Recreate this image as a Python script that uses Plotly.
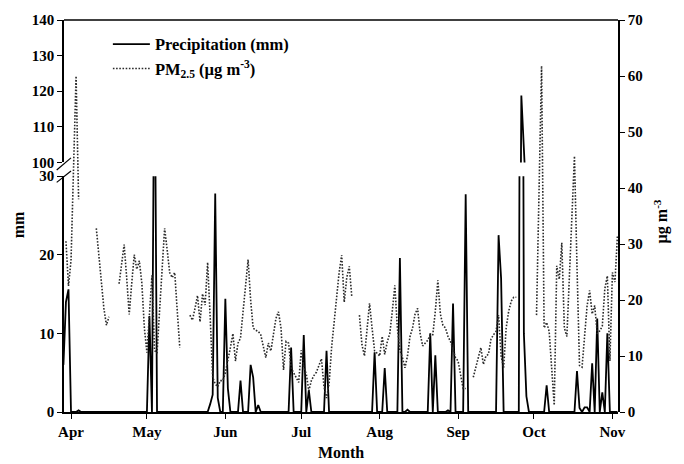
import pandas as pd
import plotly.graph_objects as go

# ---------------- data (daily, 29 Mar - 3 Nov) ----------------
dates = pd.date_range("2014-03-29", "2014-11-03", freq="D")

# Precipitation (mm) by month
precip_mar = [6, 14, 15.6]
precip_apr = [0, 0, 0, 0.2, 0, 0, 0, 0, 0, 0,
              0, 0, 0, 0, 0, 0, 0, 0, 0, 0,
              0, 0, 0, 0, 0, 0, 0, 0, 0, 0]
precip_may = [0, 12.2, 0, 50, 0, 0, 0, 0, 0, 0,
              0, 0, 0, 0, 0, 0, 0, 0, 0, 0,
              0, 0, 0, 0, 0, 1.0, 2.2, 27.8, 1.8, 0, 0]
precip_jun = [14.4, 3, 0, 0, 0, 0, 4.0, 0, 0, 0,
              6.0, 4.4, 0, 0.9, 0, 0, 0, 0, 0, 0,
              0, 0, 0, 0, 0, 0, 8.2, 0, 0, 0]
precip_jul = [0, 9.8, 0, 2.8, 0, 0, 0, 0, 0, 0,
              7.8, 0, 0, 0, 0, 0, 0, 0, 0, 0,
              0, 0, 0, 0, 0, 0, 0, 0, 0, 7.6, 0]
precip_aug = [0, 0, 5.6, 0, 0, 0, 0, 0, 19.6, 0,
              0, 0.3, 0, 0, 0, 0, 0, 0, 0, 0,
              10.0, 0, 7.2, 0, 0, 0, 0, 0.2, 0, 13.8, 0]
precip_sep = [0, 0, 0, 27.7, 0, 0, 0, 0, 0, 0,
              0, 0, 0, 0, 0, 0, 22.5, 17, 0, 0,
              0, 0, 0, 0, 0, 118.8, 10, 2, 0, 0]
precip_oct = [0, 0, 0, 0, 0, 3.4, 0, 0, 0, 0,
              0, 0, 0, 0, 0, 0, 0, 5.2, 0.5, 0,
              0.6, 0.6, 0, 6.2, 0, 11.9, 0, 2.5, 0, 10.0, 0]
precip_nov = [0, 0, 0]

# PM2.5 (ug m-3) by month, None = missing
pm_mar = [None, 30.5, 22.5]
pm_apr = [27, 44, 60, 38, None, None, None, None, None, None,
          32.8, 28, 23, 18.5, 15.5, 17, None, None, None, 22.9,
          27, 29.9, 24, 17.4, 23, 28.1, 25.5, 27, 23, 15]
pm_may = [10.6, 17, 24.4, 11, 10.5, 18, 26, 32.8, 29, 24.9,
          24, 24.9, 18, 11.5, None, None, None, 17.3, 16.4, 18.5,
          20.8, 16.1, 21.1, 19.1, 26.7, 17, 6.2, 5, 4.5, 5.6, 5.6]
pm_jun = [7, 9, 11.5, 14, 9.1, 12.3, 13.2, 17.9, 23, 27.2,
          20, 15, 14.6, 14.4, 13.8, 11.5, 9.7, 12.3, 10.9, 13.8,
          16.7, 17.9, 15, 7.5, 12.6, 12.3, 7.9, 7, 6, 5.3]
pm_jul = [11, 8, 6.8, 3.8, 5.6, 6.5, 7.1, 8.5, 9.5, 4.5,
          2.5, 5, 11.5, 16, 20.8, 25, 28, 19.6, 24, 26,
          20.5, None, None, 17.3, 12, 10, 15, 19.4, 15, 10.9, 10.5]
pm_aug = [10, 13.5, 10.3, 12.5, 14, 18, 22.6, 15, 11, 9.7,
          7.9, 10, 13.5, 15, 17.5, 18.5, 14, 11.8, 12.3, 12.8,
          13.8, 13.8, 18, 23.5, 17.5, 15.5, 15, 13.5, 12.6, 11, 9.7]
pm_sep = [9.1, 6.8, 4.2, 4.2, None, None, 6.2, 8, 9.5, 11.5,
          8.5, 10, 10.3, 13, 13.8, 14.4, 17.3, 10, 7.9, 15,
          18, 19.8, 20.5, 20.5, None, None, None, None, None, None]
pm_oct = [None, 17.3, 40, 61.8, 15, 16, 14.4, 8, 1.2, 26.1,
          23.7, 30.2, 15, 13.5, 24, 35, 45.7, 26, 8.3, 8,
          13, 19, 21.7, 17.5, 19, 14, 14.5, 15.3, 22, 24.3, 9.1]
pm_nov = [24.9, 23.2, 31.6]

precip = (precip_mar + precip_apr + precip_may + precip_jun + precip_jul
          + precip_aug + precip_sep + precip_oct + precip_nov)
pm25 = (pm_mar + pm_apr + pm_may + pm_jun + pm_jul
        + pm_aug + pm_sep + pm_oct + pm_nov)

month_ticks = ["2014-04-01", "2014-05-01", "2014-06-01", "2014-07-01",
               "2014-08-01", "2014-09-01", "2014-10-01", "2014-11-01"]
month_labels = ["Apr", "May", "Jun", "Jul", "Aug", "Sep", "Oct", "Nov"]

# ---------------- figure ----------------
FONT = "Liberation Serif, Times New Roman, serif"
fig = go.Figure()

# precipitation - lower (0-30) segment
fig.add_trace(go.Scatter(x=dates, y=precip, mode="lines", name="Precipitation (mm)",
                         line=dict(color="black", width=1.8),
                         xaxis="x", yaxis="y", legendgroup="a"))
# precipitation - upper (100-140) segment
fig.add_trace(go.Scatter(x=dates, y=precip, mode="lines", showlegend=False,
                         line=dict(color="black", width=1.8),
                         xaxis="x", yaxis="y3", legendgroup="a"))
# PM2.5 on right axis
fig.add_trace(go.Scatter(x=dates, y=pm25, mode="lines",
                         name="PM<sub>2.5</sub> (\u00b5g m<sup>-3</sup>)",
                         line=dict(color="#2a2a2a", width=1.6, dash="1.6px,1.6px"),
                         connectgaps=False, xaxis="x", yaxis="y2", legendgroup="b"))

tickfont = dict(family=FONT, size=15, color="black", weight="bold")
lower_top = (412 - 172) / 399
upper_bot = (412 - 158) / 399

fig.update_layout(
    width=684, height=464, autosize=False,
    margin=dict(l=64, r=66, t=13, b=52),
    paper_bgcolor="white", plot_bgcolor="rgba(0,0,0,0)",
    font=dict(family=FONT, color="black"),
    xaxis=dict(type="date", range=["2014-03-29 05:30", "2014-11-03 05:00"],
               tickvals=month_ticks, ticktext=month_labels,
               ticks="outside", ticklen=5, tickwidth=1.2, tickcolor="black",
               showline=True, linecolor="black", linewidth=1.5,
               showgrid=False, zeroline=False, tickfont=tickfont,
               anchor="y"),
    yaxis=dict(domain=[0, lower_top], range=[0, 30], tickvals=[0, 10, 20, 30],
               ticks="outside", ticklen=5, tickwidth=1.2, tickcolor="black",
               showline=True, linecolor="black", linewidth=1.5,
               showgrid=False, zeroline=False, tickfont=tickfont, anchor="x"),
    yaxis3=dict(domain=[upper_bot, 1], range=[100, 140],
                tickvals=[100, 110, 120, 130, 140],
                ticks="outside", ticklen=5, tickwidth=1.2, tickcolor="black",
                showline=True, linecolor="black", linewidth=1.5,
                showgrid=False, zeroline=False, tickfont=tickfont, anchor="x"),
    yaxis2=dict(domain=[0, 1], range=[0, 70], tickvals=[0, 10, 20, 30, 40, 50, 60, 70],
                side="right", anchor="x",
                ticks="outside", ticklen=5, tickwidth=1.2, tickcolor="black",
                showline=True, linecolor="black", linewidth=1.5,
                showgrid=False, zeroline=False, tickfont=tickfont),
    legend=dict(x=0.0792, y=0.9826, xanchor="left", yanchor="top",
                bgcolor="rgba(0,0,0,0)", traceorder="grouped", tracegroupgap=0,
                itemwidth=37,
                font=dict(family=FONT, size=16.5, color="black", weight="bold")),
    showlegend=True,
)

# top frame line and axis-break slashes
fig.add_shape(type="line", xref="paper", yref="paper", x0=0, x1=1, y0=1, y1=1,
              line=dict(color="black", width=1.5))
sx0, sx1 = (56.7 - 64) / 554, (71 - 64) / 554
for ya, yb in [(165.7, 153.3), (178.3, 166.7)]:
    fig.add_shape(type="line", xref="paper", yref="paper",
                  x0=sx0, x1=sx1, y0=(412 - ya) / 399, y1=(412 - yb) / 399,
                  line=dict(color="black", width=1.2))

# axis titles
fig.add_annotation(text="<b>mm</b>", xref="paper", yref="paper",
                   x=(18 - 64) / 554, y=(412 - 222) / 399, textangle=-90,
                   showarrow=False, xanchor="center", yanchor="middle",
                   font=dict(family=FONT, size=16, color="black"))
fig.add_annotation(text="<b>\u00b5g m<sup>-3</sup></b>", xref="paper", yref="paper",
                   x=(661 - 64) / 554, y=(412 - 218) / 399, textangle=-90,
                   showarrow=False, xanchor="center", yanchor="middle",
                   font=dict(family=FONT, size=16, color="black"))
fig.add_annotation(text="<b>Month</b>", xref="paper", yref="paper",
                   x=0.5, y=(412 - 453) / 399,
                   showarrow=False, xanchor="center", yanchor="middle",
                   font=dict(family=FONT, size=16, color="black"))

fig.write_html("out.html",
               config={"displayModeBar": False},
               post_script="document.body.style.margin='0px';"
                           "document.body.style.overflow='hidden';")
